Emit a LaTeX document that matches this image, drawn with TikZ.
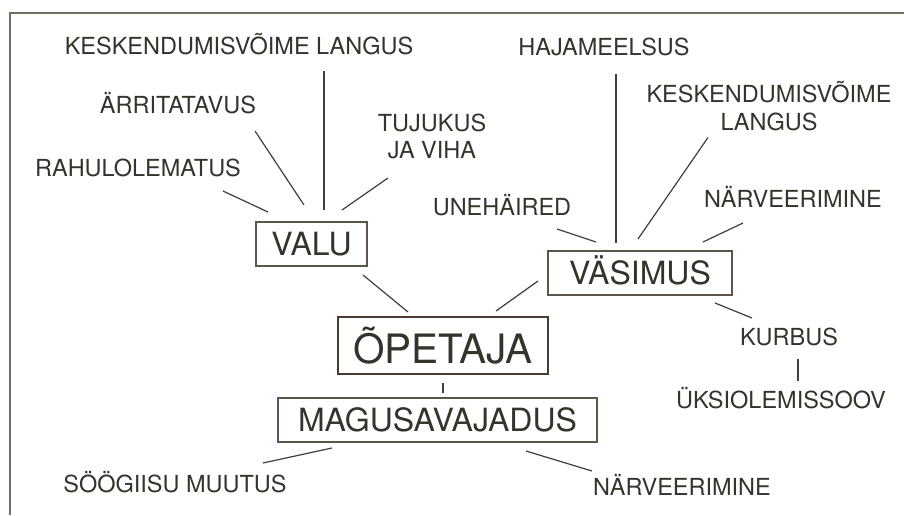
\documentclass[tikz,border=0pt]{standalone}
\usepackage{fontspec}
\setmainfont{TeX Gyre Heros}
\usetikzlibrary{positioning}

\definecolor{ink}{HTML}{34342C}
\definecolor{wire}{HTML}{3F3F37}
\definecolor{boxline}{HTML}{5C5548}
\definecolor{hubline}{HTML}{4A3A34}
\definecolor{frameline}{HTML}{6E6E62}

\begin{document}
\begin{tikzpicture}[
                x=1pt, y=1pt,
                node distance=60pt,
                on grid,
                symptom/.style={text=ink, inner sep=0pt,
                    font=\fontsize{23.5}{27.5}\selectfont,
                    text height=17pt, text depth=0pt},
                twoline/.style={text=ink, inner sep=0pt, align=center,
                    font=\fontsize{23.5}{27.5}\selectfont},
                cause/.style={draw=boxline, line width=1.2pt, text=ink,
                    font=\fontsize{32}{36}\selectfont, inner sep=0pt,
                    minimum height=44pt, text height=23pt, text depth=0pt},
                teacher/.style={cause, draw=hubline, line width=2pt,
                    font=\fontsize{40.5}{44}\selectfont,
                    minimum height=57pt, text height=35pt},
                link/.style={draw=wire, line width=1.2pt}]
            \useasboundingbox (0,0) rectangle (904,-515);
            \draw[frameline, line width=1.3pt] (10,-515) -- (10,-13) -- (904,-13);

            \node[teacher, minimum width=210pt] (opetaja) at (443,-345.5)                  {ÕPETAJA};
            \node[cause, minimum width=111pt]   (valu)    [above left=101.5pt and 131.5pt of opetaja] {VALU};
            \node[cause, minimum width=184pt]   (vasimus) [above right=72.5pt and 197pt of opetaja]   {VÄSIMUS};
            \node[cause, minimum width=319pt]   (magusa)  [below left=74.5pt and 5.5pt of opetaja]    {MAGUSAVAJADUS};

            % valu
            \node[symptom] (kesk1) [above left=198pt and 72.5pt of valu]    {KESKENDUMISVÕIME LANGUS};
            \node[symptom] (arri)  [above left=139pt and 133.5pt of valu]   {ÄRRITATAVUS};
            \node[symptom] (rahu)  [above left=76pt and 173.5pt of valu]    {RAHULOLEMATUS};
            \node[twoline] (tuju)  [above right=107.5pt and 120.5pt of valu] {TUJUKUS\\JA VIHA};

            % vasimus
            \node[symptom] (haja)   [above left=226pt and 36pt of vasimus]   {HAJAMEELSUS};
            \node[twoline] (kesk2)  [above right=167pt and 129pt of vasimus] {KESKENDUMISVÕIME\\LANGUS};
            \node[symptom] (une)    [above left=66pt and 138pt of vasimus]   {UNEHÄIRED};
            \node[symptom] (narv1)  [above right=74pt and 153pt of vasimus]  {NÄRVEERIMINE};
            \node[symptom] (kurbus) [below right=64pt and 149pt of vasimus]  {KURBUS};
            \node[symptom] (uksi)   [below left=63pt and 8pt of kurbus]      {ÜKSIOLEMISSOOV};

            % magusavajadus
            \node[symptom] (soog)  [below left=64pt and 262.5pt of magusa]  {SÖÖGIISU MUUTUS};
            \node[symptom] (narv2) [below right=67pt and 244.5pt of magusa] {NÄRVEERIMINE};

            \draw[link]
            ([shift={(85,-23)}]rahu.center)     edge ([shift={(-43.5,32)}]valu.center)
            ([shift={(77,-26)}]arri.center)     edge ([shift={(-7.5,39)}]valu.center)
            ([shift={(85,-25)}]kesk1.center)    edge ([shift={(12.5,34)}]valu.center)
            ([shift={(-44,-41.5)}]tuju.center)  edge ([shift={(30.5,34)}]valu.center)
            ([shift={(12,-27)}]haja.center)     edge ([shift={(-24,30)}]vasimus.center)
            ([shift={(-61,-31.5)}]kesk2.center) edge ([shift={(-2,34)}]vasimus.center)
            ([shift={(55,-22)}]une.center)      edge ([shift={(-44,31)}]vasimus.center)
            ([shift={(-50,-24)}]narv1.center)   edge ([shift={(63,31)}]vasimus.center)
            ([shift={(75,-30)}]vasimus.center)  edge ([shift={(-37,19)}]kurbus.center)
            ([shift={(9,-22)}]kurbus.center)    edge ([shift={(17,19)}]uksi.center)
            ([shift={(51.5,-31)}]valu.center)   edge ([shift={(-35,33.5)}]opetaja.center)
            ([shift={(-102,-8)}]vasimus.center) edge ([shift={(53,34.5)}]opetaja.center)
            ([shift={(0,-37.5)}]opetaja.center) edge ([shift={(5.5,27)}]magusa.center)
            ([shift={(-105.5,-28)}]magusa.center) edge ([shift={(88,21)}]soog.center)
            ([shift={(88.5,-31)}]magusa.center) edge ([shift={(-90,16)}]narv2.center);
        \end{tikzpicture}
\end{document}
